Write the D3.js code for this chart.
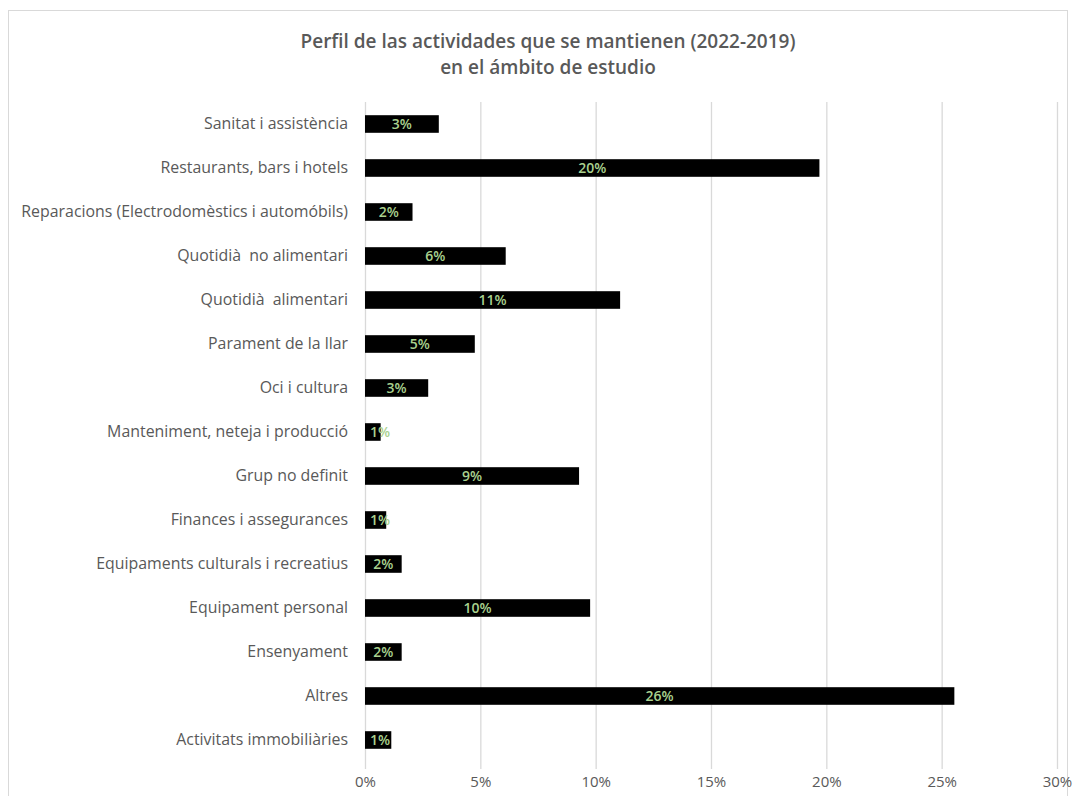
<!DOCTYPE html>
<html>
<head>
<meta charset="utf-8">
<script src="https://cdn.jsdelivr.net/npm/d3@7/dist/d3.min.js"></script>
<style>
  html, body { margin: 0; padding: 0; background: #ffffff; }
  svg { display: block; }
  text { font-family: "Open Sans", "Liberation Sans", sans-serif; white-space: pre; }
</style>
</head>
<body>
<svg id="chart" width="1075" height="796"></svg>
<script>
// Activity categories, top to bottom
const categories = [
  "Sanitat i assistència",
  "Restaurants, bars i hotels",
  "Reparacions (Electrodomèstics i automóbils)",
  "Quotidià  no alimentari",
  "Quotidià  alimentari",
  "Parament de la llar",
  "Oci i cultura",
  "Manteniment, neteja i producció",
  "Grup no definit",
  "Finances i assegurances",
  "Equipaments culturals i recreatius",
  "Equipament personal",
  "Ensenyament",
  "Altres",
  "Activitats immobiliàries"
];

// Share of activities kept (%)
const shares = [3.2, 19.7, 2.06, 6.1, 11.06, 4.76, 2.74, 0.68, 9.28, 0.92, 1.59, 9.76, 1.59, 25.55, 1.14];

// X axis ticks (%)
const xTicks = [0, 5, 10, 15, 20, 25, 30];

const titleLines = [
  "Perfil de las actividades que se mantienen (2022-2019)",
  "en el ámbito de estudio"
];

const data = categories.map((c, i) => ({ category: c, value: shares[i] }));

const svg = d3.select("#chart");
const plot = { left: 365, right: 1057, top: 102, bottom: 762 };

// Outer chart frame
svg.append("rect")
  .attr("x", 8.5).attr("y", 10.5)
  .attr("width", 1059).attr("height", 800)
  .attr("fill", "#ffffff")
  .attr("stroke", "#d9d9d9").attr("stroke-width", 1);

// Title
svg.append("g")
  .selectAll("text")
  .data(titleLines)
  .join("text")
  .attr("x", 548)
  .attr("y", (d, i) => 48 + i * 26)
  .attr("text-anchor", "middle")
  .attr("font-size", 19)
  .attr("font-weight", 600)
  .attr("fill", "#595959")
  .text(d => d);

const x = d3.scaleLinear().domain([0, 30]).range([plot.left, plot.right]);
const y = d3.scaleBand().domain(categories).range([plot.top, plot.bottom]).paddingInner(0.6).paddingOuter(0.3);

// Vertical gridlines
svg.append("g")
  .selectAll("line")
  .data(xTicks)
  .join("line")
  .attr("x1", d => x(d) + 0.5).attr("x2", d => x(d) + 0.5)
  .attr("y1", plot.top).attr("y2", plot.bottom + 7)
  .attr("stroke", "#d9d9d9").attr("stroke-width", 1.3);

// X axis labels
const xAxis = d3.axisBottom(x)
  .tickValues(xTicks)
  .tickFormat(d => d + "%")
  .tickSize(0)
  .tickPadding(0);
const gx = svg.append("g")
  .attr("transform", `translate(0, ${plot.bottom + 14})`)
  .call(xAxis);
gx.select(".domain").remove();
gx.selectAll("text")
  .attr("font-size", 15)
  .attr("fill", "#595959")
  .attr("font-family", "\"Open Sans\", sans-serif");

// Category labels
const yAxis = d3.axisLeft(y).tickSize(0).tickPadding(17);
const gy = svg.append("g")
  .attr("transform", `translate(${plot.left}, 0)`)
  .call(yAxis);
gy.select(".domain").remove();
gy.selectAll("text")
  .attr("font-size", 15.9)
  .attr("fill", "#595959")
  .attr("font-family", "\"Open Sans\", sans-serif");

// Bars
svg.append("g")
  .selectAll("rect")
  .data(data)
  .join("rect")
  .attr("x", x(0))
  .attr("y", d => y(d.category))
  .attr("width", d => x(d.value) - x(0))
  .attr("height", y.bandwidth())
  .attr("fill", "#000000");

// Value labels, centred on each bar (kept clear of the axis for very short bars)
svg.append("g")
  .selectAll("text")
  .data(data)
  .join("text")
  .attr("x", d => Math.max((x(0) + x(d.value)) / 2, x(0) + 15))
  .attr("y", d => y(d.category) + y.bandwidth() / 2)
  .attr("dy", "0.36em")
  .attr("text-anchor", "middle")
  .attr("font-size", 14)
  .attr("font-weight", 600)
  .attr("fill", "#a9d18e")
  .text(d => Math.round(d.value) + "%");
</script>
</body>
</html>
